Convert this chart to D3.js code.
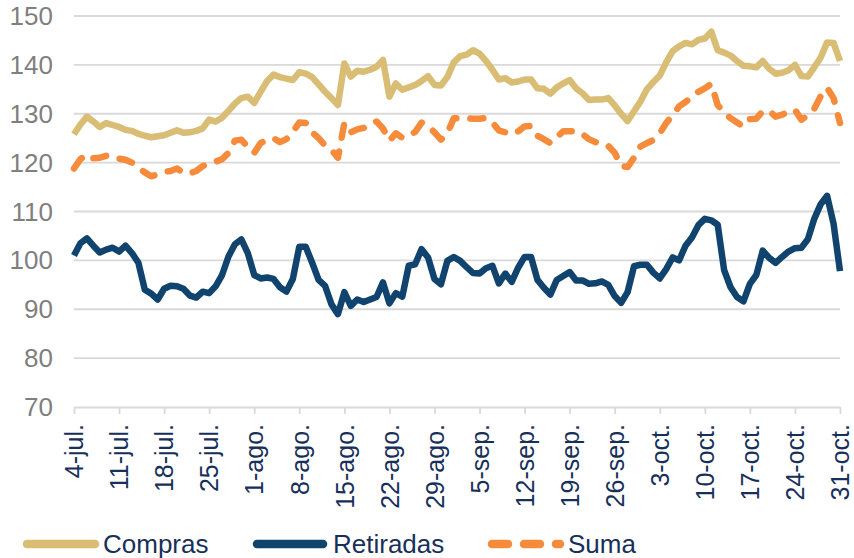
<!DOCTYPE html>
<html>
<head>
<meta charset="utf-8">
<script src="https://cdn.jsdelivr.net/npm/d3@7"></script>
<style>
  body { margin: 0; background: #fff; }
  svg text { font-family: "Liberation Sans", Arial, sans-serif; }
</style>
</head>
<body>
<svg id="chart" width="854" height="558"></svg>
<script>
// daily values, 4-jul .. 31-oct
var compras = [
  125.8, 127.8, 129.4, 128.4, 127.3, 128.1, 127.7, 127.3, 126.7, 126.5,
  125.9, 125.5, 125.2, 125.4, 125.6, 126.1, 126.6, 126.1, 126.2, 126.5,
  127.0, 128.8, 128.4, 129.2, 130.6, 132.1, 133.2, 133.5, 132.2, 134.5,
  136.7, 138.0, 137.5, 137.2, 136.9, 138.5, 138.2, 137.5, 136.0, 134.5,
  133.2, 131.8, 140.3, 137.6, 138.8, 138.6, 139.0, 139.6, 141.0, 133.5,
  136.2, 134.9, 135.4, 135.9, 136.7, 137.7, 135.9, 135.8, 137.5, 140.5,
  141.8, 142.1, 143.0, 142.3, 140.8, 139.0, 137.0, 137.3, 136.4, 136.6,
  137.0, 137.0, 135.2, 135.1, 134.1, 135.4, 136.2, 136.9, 135.2, 134.2,
  132.8, 132.9, 132.9, 133.2, 131.7, 130.0, 128.5, 130.5, 132.5, 135.0,
  136.5, 137.8, 140.5, 142.8, 143.8, 144.5, 144.2, 145.1, 145.4, 146.8,
  143.0, 142.5, 141.9, 140.8, 139.8, 139.7, 139.5, 140.8, 139.2, 138.2,
  138.4, 138.9, 140.0, 137.7, 137.6, 139.5, 141.5, 144.6, 144.5, 140.8
];
var retiradas = [
  101.0, 103.5, 104.5, 103.0, 101.6, 102.2, 102.6, 101.8, 103.0, 101.5,
  99.5, 94.0, 93.2, 92.0, 94.2, 94.8, 94.7, 94.2, 92.8, 92.4,
  93.6, 93.3, 94.7, 97.0, 100.8, 103.3, 104.3, 101.5, 97.0, 96.3,
  96.5, 96.2, 94.5, 93.6, 96.2, 102.8, 102.8, 99.5, 96.0, 94.8,
  91.0, 89.0, 93.5, 90.7, 92.0, 91.5, 92.0, 92.5, 95.5, 91.2,
  93.3, 92.6, 98.9, 99.2, 102.3, 100.6, 96.2, 95.1, 99.9, 100.7,
  99.9, 98.6, 97.4, 97.3, 98.4, 98.9, 95.3, 97.3, 95.6, 98.5,
  100.7, 100.7, 96.0, 94.4, 93.0, 96.0, 96.8, 97.6, 95.9, 95.9,
  95.2, 95.3, 95.7, 95.0, 92.7, 91.3, 93.5, 98.8, 99.1, 99.1,
  97.5, 96.3, 98.2, 100.6, 100.0, 103.0, 104.7, 107.2, 108.5, 108.2,
  107.3, 98.0, 94.5, 92.5, 91.6, 95.2, 97.0, 102.0, 100.5, 99.5,
  100.7, 101.8, 102.5, 102.6, 104.3, 108.5, 111.5, 113.2, 107.5, 97.8
];
var suma = [
  118.8, 120.7, 121.7, 120.9, 121.0, 121.4, 121.3, 120.8, 120.6, 120.0,
  119.0, 118.0, 117.2, 117.6, 118.1, 118.3, 118.8, 117.9, 117.8, 118.3,
  119.3, 119.8, 120.2, 120.7, 122.0, 124.5, 124.7, 123.2, 122.0, 124.0,
  124.7, 125.0, 124.2, 124.8, 126.3, 128.2, 128.1, 126.2, 125.0, 123.5,
  122.6, 121.0, 128.1, 126.2, 126.8, 127.1, 127.9, 128.4, 127.0, 124.5,
  126.0, 125.1, 125.4, 126.3, 128.2, 127.5, 126.2, 124.7, 126.0, 129.1,
  129.1, 129.1, 129.0, 129.0, 129.1, 128.2, 126.6, 126.2, 125.8, 126.4,
  127.4, 127.5, 125.5, 124.8, 124.0, 125.2, 126.4, 126.4, 126.4, 125.8,
  124.8, 124.2, 123.6, 123.4, 122.0, 119.3, 119.1, 121.0, 123.3, 124.0,
  124.6, 126.0, 128.1, 129.7, 131.5, 132.4, 133.5, 134.5, 135.2, 136.1,
  131.8, 130.2, 129.1, 128.2, 127.4, 128.9, 129.0, 130.5, 130.6, 129.4,
  129.8, 130.4, 130.8, 128.8, 129.6, 131.0, 133.6, 135.3, 133.2, 128.1
];
var tickLabels = ["4-jul.", "11-jul.", "18-jul.", "25-jul.", "1-ago.", "8-ago.",
  "15-ago.", "22-ago.", "29-ago.", "5-sep.", "12-sep.", "19-sep.", "26-sep.",
  "3-oct.", "10-oct.", "17-oct.", "24-oct.", "31-oct."];
var yTicks = [70, 80, 90, 100, 110, 120, 130, 140, 150];

var startDate = new Date(2022, 6, 4),
    endDate = new Date(2022, 9, 31);
var dates = d3.timeDay.range(startDate, d3.timeDay.offset(endDate, 1));
var tickDates = tickLabels.map(function (d, i) { return d3.timeDay.offset(startDate, i * 7); });

var series = [
  { name: "Compras", values: compras, color: "#D9BD74", dash: null },
  { name: "Retiradas", values: retiradas, color: "#10446F", dash: null },
  { name: "Suma", values: suma, color: "#F68B3B", dash: "13,14" }
];

var svg = d3.select("#chart");

var x = d3.scaleTime()
    .domain([startDate, endDate])
    .range([74, 840]);

var y = d3.scaleLinear()
    .domain([70, 150])
    .range([407, 16]);

// gridlines
svg.append("g")
    .selectAll("line")
    .data(yTicks.slice(1))
    .enter().append("line")
    .attr("x1", 74)
    .attr("x2", 840)
    .attr("y1", function (d) { return y(d); })
    .attr("y2", function (d) { return y(d); })
    .attr("stroke", "#D9D9D9")
    .attr("stroke-width", 1.8);

// y labels
svg.append("g")
    .selectAll("text")
    .data(yTicks)
    .enter().append("text")
    .attr("x", 53)
    .attr("y", function (d) { return y(d); })
    .attr("dy", "0.35em")
    .attr("text-anchor", "end")
    .attr("fill", "#7F7F7F")
    .style("font-size", "26px")
    .text(function (d) { return d; });

// x axis
var xAxis = svg.append("g")
    .attr("transform", "translate(0," + y(70) + ")")
    .call(d3.axisBottom(x)
        .tickValues(tickDates)
        .tickFormat(function (d, i) { return tickLabels[i]; })
        .tickSize(7)
        .tickSizeOuter(0));

xAxis.select(".domain")
    .attr("stroke", "#D9D9D9")
    .attr("stroke-width", 1.8);

xAxis.selectAll(".tick line")
    .attr("stroke", "#D9D9D9")
    .attr("stroke-width", 1.8);

xAxis.selectAll(".tick text")
    .attr("transform", "rotate(-90)")
    .attr("x", -17)
    .attr("y", 0)
    .attr("dy", "0.35em")
    .style("text-anchor", "end")
    .style("font-size", "25px")
    .style("font-family", "'Liberation Sans', Arial, sans-serif")
    .attr("fill", "#17305A");

// lines
var line = d3.line()
    .x(function (d, i) { return x(dates[i]); })
    .y(function (d) { return y(d); });

svg.append("g")
    .selectAll("path")
    .data(series)
    .enter().append("path")
    .attr("d", function (d) { return line(d.values); })
    .attr("fill", "none")
    .attr("stroke", function (d) { return d.color; })
    .attr("stroke-width", 6.5)
    .attr("stroke-linejoin", "round")
    .attr("stroke-linecap", function (d) { return d.dash ? "round" : "butt"; })
    .attr("stroke-dasharray", function (d) { return d.dash; });

// legend
var legendPos = [
  { x1: 27, x2: 95, tx: 103 },
  { x1: 257, x2: 323, tx: 333 },
  { x1: 492, x2: 560, tx: 568 }
];

var legend = svg.append("g")
    .selectAll("g")
    .data(series)
    .enter().append("g");

legend.append("line")
    .attr("x1", function (d, i) { return legendPos[i].x1; })
    .attr("x2", function (d, i) { return legendPos[i].x2; })
    .attr("y1", 544)
    .attr("y2", 544)
    .attr("stroke", function (d) { return d.color; })
    .attr("stroke-width", 8.5)
    .attr("stroke-linecap", "round")
    .attr("stroke-dasharray", function (d) { return d.dash ? "16,16" : null; });

legend.append("text")
    .attr("x", function (d, i) { return legendPos[i].tx; })
    .attr("y", 544)
    .attr("dy", "0.35em")
    .attr("fill", "#17305A")
    .style("font-size", "26px")
    .text(function (d) { return d.name; });
</script>
</body>
</html>
